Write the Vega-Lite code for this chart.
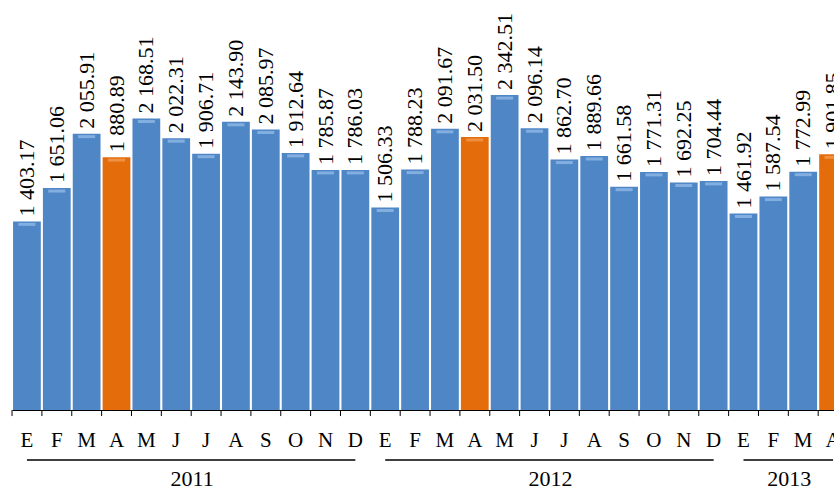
{
  "$schema": "https://vega.github.io/schema/vega-lite/v6.json",
  "width": 822,
  "height": 410,
  "padding": {"left": 12, "top": 0, "right": 0, "bottom": 79},
  "autosize": {"type": "none"},
  "background": "white",
  "config": {
    "view": {"stroke": null},
    "font": "Liberation Serif",
    "locale": {"number": {"decimal": ".", "thousands": " ", "grouping": [3], "currency": ["", ""]}}
  },
  "datasets": {
    "meses": [
      {"clave": "2011-01", "mes": 1, "valor": 1403.17},
      {"clave": "2011-02", "mes": 2, "valor": 1651.06},
      {"clave": "2011-03", "mes": 3, "valor": 2055.91},
      {"clave": "2011-04", "mes": 4, "valor": 1880.89},
      {"clave": "2011-05", "mes": 5, "valor": 2168.51},
      {"clave": "2011-06", "mes": 6, "valor": 2022.31},
      {"clave": "2011-07", "mes": 7, "valor": 1906.71},
      {"clave": "2011-08", "mes": 8, "valor": 2143.90},
      {"clave": "2011-09", "mes": 9, "valor": 2085.97},
      {"clave": "2011-10", "mes": 10, "valor": 1912.64},
      {"clave": "2011-11", "mes": 11, "valor": 1785.87},
      {"clave": "2011-12", "mes": 12, "valor": 1786.03},
      {"clave": "2012-01", "mes": 1, "valor": 1506.33},
      {"clave": "2012-02", "mes": 2, "valor": 1788.23},
      {"clave": "2012-03", "mes": 3, "valor": 2091.67},
      {"clave": "2012-04", "mes": 4, "valor": 2031.50},
      {"clave": "2012-05", "mes": 5, "valor": 2342.51},
      {"clave": "2012-06", "mes": 6, "valor": 2096.14},
      {"clave": "2012-07", "mes": 7, "valor": 1862.70},
      {"clave": "2012-08", "mes": 8, "valor": 1889.66},
      {"clave": "2012-09", "mes": 9, "valor": 1661.58},
      {"clave": "2012-10", "mes": 10, "valor": 1771.31},
      {"clave": "2012-11", "mes": 11, "valor": 1692.25},
      {"clave": "2012-12", "mes": 12, "valor": 1704.44},
      {"clave": "2013-01", "mes": 1, "valor": 1461.92},
      {"clave": "2013-02", "mes": 2, "valor": 1587.54},
      {"clave": "2013-03", "mes": 3, "valor": 1772.99},
      {"clave": "2013-04", "mes": 4, "valor": 1901.85}
    ],
    "anios": [
      {"anio": "2011", "ini": "2011-01", "fin": "2011-12", "mid": "2011-07"},
      {"anio": "2012", "ini": "2012-01", "fin": "2012-12", "mid": "2012-07"},
      {"anio": "2013", "ini": "2013-01", "fin": "2013-04", "mid": "2013-03"}
    ]
  },
  "layer": [
    {
      "data": {"name": "meses"},
      "mark": {"type": "bar"},
      "encoding": {
        "x": {
          "field": "clave", "type": "ordinal",
          "scale": {"paddingInner": 0.07, "paddingOuter": 0.035, "range": [0, 836]},
          "axis": {
            "title": null,
            "labelExpr": "['E','F','M','A','M','J','J','A','S','O','N','D'][toNumber(slice(datum.value, 5)) - 1]",
            "labelAngle": 0,
            "labelFont": "Liberation Serif",
            "labelFontSize": 21,
            "labelColor": "black",
            "domainColor": "black",
            "ticks": false,
            "labelPadding": 19
          }
        },
        "y": {"field": "valor", "type": "quantitative", "scale": {"domain": [0, 3050], "nice": false, "zero": true}, "axis": null},
        "color": {"condition": {"test": "datum.mes === 4", "value": "#E46C0A"}, "value": "#4F86C6"}
      }
    },
    {
      "data": {"name": "meses"},
      "mark": {"type": "rule", "color": "black", "strokeWidth": 1, "xOffset": -1},
      "encoding": {
        "x": {"field": "clave", "type": "ordinal", "bandPosition": 0},
        "y": {"datum": 0, "type": "quantitative"},
        "y2": {"datum": -45}
      }
    },
    {
      "data": {"name": "meses"},
      "mark": {"type": "tick", "thickness": 3, "size": 17, "yOffset": 3, "opacity": 0.6},
      "encoding": {
        "x": {"field": "clave", "type": "ordinal"},
        "y": {"field": "valor", "type": "quantitative"},
        "color": {"condition": {"test": "datum.mes === 4", "value": "#F7A868"}, "value": "#A6CAF2"}
      }
    },
    {
      "data": {"name": "meses"},
      "mark": {"type": "text", "angle": 270, "align": "left", "baseline": "middle", "dx": 5, "fontSize": 22, "font": "Liberation Serif", "color": "black"},
      "encoding": {
        "x": {"field": "clave", "type": "ordinal"},
        "y": {"field": "valor", "type": "quantitative"},
        "text": {"field": "valor", "type": "quantitative", "format": ",.2f"}
      }
    },
    {
      "data": {"name": "anios"},
      "mark": {"type": "rule", "color": "black", "strokeWidth": 1.5},
      "encoding": {
        "x": {"field": "ini", "type": "ordinal"},
        "x2": {"field": "fin"},
        "y": {"datum": -372, "type": "quantitative"}
      }
    },
    {
      "data": {"name": "anios"},
      "mark": {"type": "text", "fontSize": 22, "font": "Liberation Serif", "color": "black", "baseline": "middle"},
      "encoding": {
        "x": {"field": "mid", "type": "ordinal", "bandPosition": 0},
        "y": {"datum": -515, "type": "quantitative"},
        "text": {"field": "anio"}
      }
    }
  ]
}
